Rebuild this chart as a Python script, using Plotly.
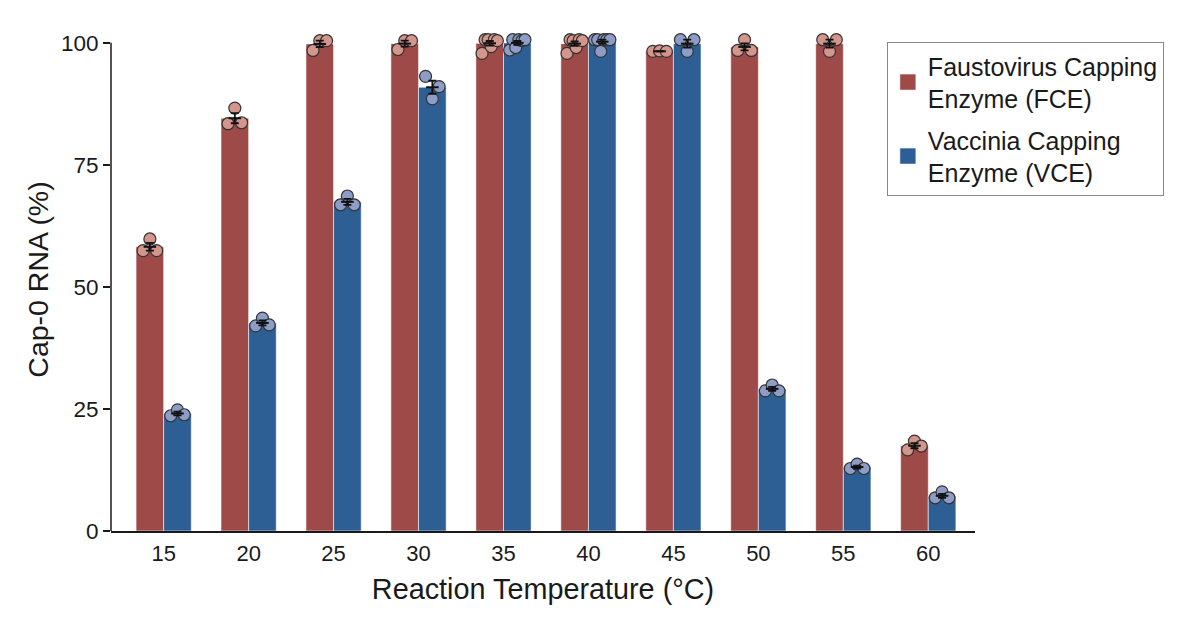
import numpy as np
import plotly.graph_objects as go

temps = ["15", "20", "25", "30", "35", "40", "45", "50", "55", "60"]

fce_reps = [
    [57.4, 59.8, 57.4],
    [83.4, 86.6, 83.6],
    [98.4, 100.4, 100.4],
    [98.6, 100.4, 100.4],
    [97.8, 100.6, 100.6, 99.2, 100.6, 100.4],
    [97.8, 100.6, 100.4, 99.0, 100.6, 100.4],
    [98.2, 98.3, 98.2],
    [98.4, 100.6, 98.4],
    [100.6, 98.2, 100.6],
    [16.6, 18.4, 17.4],
]
vce_reps = [
    [23.6, 24.8, 23.8],
    [42.0, 43.6, 42.2],
    [66.8, 68.6, 66.8],
    [93.1, 88.5, 91.0],
    [98.5, 100.6, 99.0, 100.6, 100.4, 100.6],
    [100.6, 100.6, 98.2, 100.6, 100.6, 100.6],
    [100.6, 98.2, 100.6],
    [28.7, 29.9, 28.7],
    [12.8, 13.7, 12.8],
    [6.8, 8.0, 6.8],
]

series_names = ["Faustovirus Capping<br>Enzyme (FCE)", "Vaccinia Capping<br>Enzyme (VCE)"]
bar_colors = ["#9E4A49", "#2E5F94"]
dot_colors = ["#D4958D", "#8D9DC7"]

xi = np.arange(len(temps))
half = 0.1625

fig = go.Figure()
all_reps = [fce_reps, vce_reps]
offsets = [-half, half]

for k in range(2):
    means = [float(np.mean(r)) for r in all_reps[k]]
    fig.add_trace(go.Bar(
        x=xi, y=means, name=series_names[k], showlegend=False,
        marker=dict(color=bar_colors[k], line=dict(color="rgba(255,255,255,0.55)", width=1)),
    ))

for k in range(2):
    dx, dy = [], []
    for i, reps in enumerate(all_reps[k]):
        n = len(reps)
        spread = 0.08 if n <= 3 else 0.09
        js = np.linspace(-spread, spread, n)
        for j, v in zip(js, reps):
            dx.append(i + offsets[k] + j)
            dy.append(v)
    fig.add_trace(go.Scatter(
        x=dx, y=dy, mode="markers", showlegend=False, cliponaxis=False,
        marker=dict(size=12, color=dot_colors[k], line=dict(color="#333333", width=1.2)),
        hoverinfo="skip",
    ))

for k in range(2):
    means = [float(np.mean(r)) for r in all_reps[k]]
    sems = [float(np.std(r, ddof=1) / np.sqrt(len(r))) for r in all_reps[k]]
    fig.add_trace(go.Scatter(
        x=xi + offsets[k], y=means, mode="markers", showlegend=False, cliponaxis=False,
        marker=dict(symbol="line-ew", size=9, color="#111111", line=dict(color="#111111", width=2)),
        error_y=dict(type="data", array=sems, visible=True, color="#111111", thickness=1.8, width=4),
        hoverinfo="skip",
    ))

# legend entries
for k in range(2):
    fig.add_trace(go.Scatter(
        x=[None], y=[None], mode="markers", name=series_names[k], legendgroup=f"g{k}",
        marker=dict(symbol="square", size=20, color=bar_colors[k],
                    line=dict(color="rgba(255,255,255,0.55)", width=1)),
    ))

font_family = "Liberation Sans, Arial, sans-serif"
fig.update_layout(
    width=1200, height=638,
    margin=dict(l=111, r=225, t=28, b=107),
    plot_bgcolor="white", paper_bgcolor="white",
    barmode="group", bargap=0.35, bargroupgap=0,
    font=dict(family=font_family, color="#1a1a1a"),
    legend=dict(
        x=0.898, y=0.972, xanchor="left", yanchor="top",
        bordercolor="#888888", borderwidth=1,
        font=dict(size=25, family=font_family, color="#1a1a1a"),
        itemsizing="trace", tracegroupgap=6,
    ),
    xaxis=dict(
        range=[-0.62, 9.55], tickmode="array", tickvals=list(xi), ticktext=temps,
        showline=True, linecolor="#1a1a1a", linewidth=1.5,
        ticks="outside", ticklen=2, tickcolor="rgba(0,0,0,0)",
        tickfont=dict(size=22), showgrid=False, zeroline=False,
        title=dict(text="Reaction Temperature (°C)", font=dict(size=28.8), standoff=14),
    ),
    yaxis=dict(
        range=[0, 103], tickvals=[0, 25, 50, 75, 100],
        showline=False,
        ticks="outside", ticklen=7, tickcolor="#1a1a1a", tickwidth=1.5,
        tickfont=dict(size=22.5), showgrid=False, zeroline=False,
        title=dict(text="Cap-0 RNA (%)", font=dict(size=28.5), standoff=3),
    ),
    shapes=[dict(type="line", xref="paper", yref="y", x0=0, x1=0, y0=0, y1=100,
                 line=dict(color="#1a1a1a", width=1.5), layer="above")],
)

fig.write_html("out.html")
